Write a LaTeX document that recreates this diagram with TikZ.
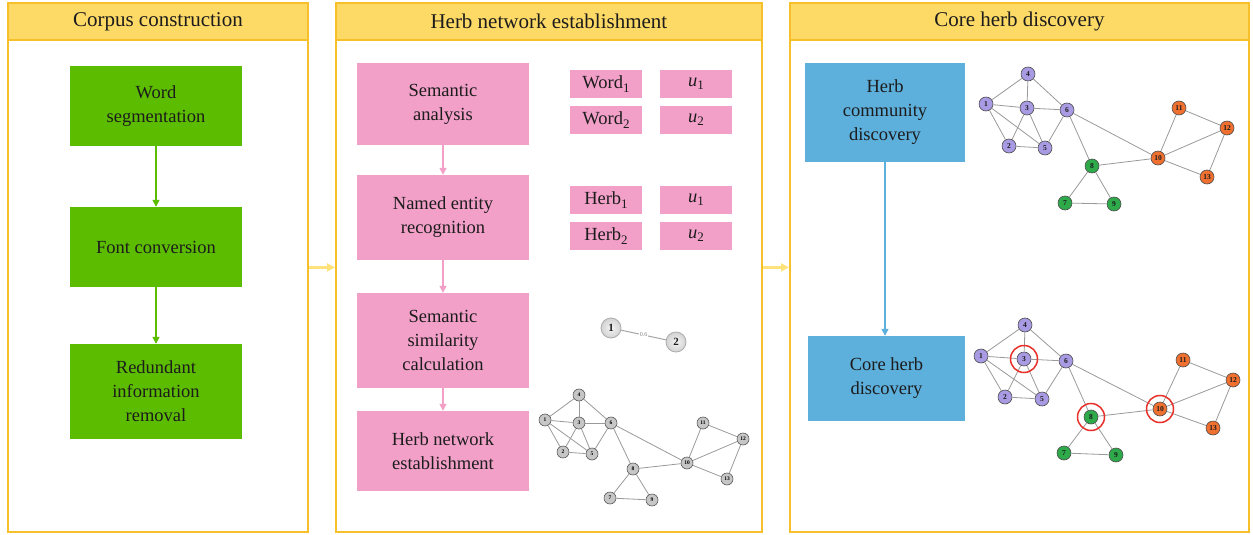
\documentclass[tikz,border=0pt]{standalone}
\usepackage{fontspec}
\setmainfont{Liberation Serif}
\usetikzlibrary{arrows.meta}
\definecolor{ybord}{HTML}{F7C02A}
\definecolor{yhead}{HTML}{FDD966}
\definecolor{yarr}{HTML}{FFE27A}
\definecolor{bgreen}{HTML}{5CBD00}
\definecolor{bpink}{HTML}{F2A0C8}
\definecolor{bblue}{HTML}{5DAFDC}
\definecolor{txt}{HTML}{1C1C1C}
\definecolor{gpurple}{HTML}{A99BE3}
\definecolor{ggreen}{HTML}{2EAA4A}
\definecolor{gorange}{HTML}{F07030}
\definecolor{gedge}{HTML}{9A9A9A}
\definecolor{ringred}{HTML}{E8302A}
\newcommand{\mysub}[1]{\raisebox{-0.4ex}{\fontsize{13}{13}\selectfont #1}}
\tikzset{
  panel/.style={draw=ybord, line width=1.8pt, fill=white, anchor=north west, inner sep=0pt},
  head/.style={draw=ybord, fill=yhead, line width=1.8pt, anchor=north west, inner sep=0pt,
    minimum height=37pt, text=txt, font=\fontsize{21}{24}\selectfont},
  box/.style={inner sep=0pt, align=center, text=txt, font=\fontsize{18.5}{24}\selectfont},
  gbox/.style={box, fill=bgreen, minimum width=172pt},
  pbox/.style={box, fill=bpink, minimum width=172pt},
  sbox/.style={box, fill=bpink, minimum width=72pt, minimum height=28pt},
  bbox/.style={box, fill=bblue},
  garr/.style={draw=bgreen, line width=1.5pt, -{Triangle[length=7pt,width=7pt]}},
  parr/.style={draw=bpink, line width=1.5pt, -{Triangle[length=7pt,width=7pt]}},
  barr/.style={draw=bblue, line width=1.5pt, -{Triangle[length=7pt,width=7pt]}},
  yarrow/.style={draw=yarr, line width=2.5pt, -{Triangle[length=8pt,width=8pt]}},
  grnode/.style={circle, draw=gray!70!black, line width=0.6pt, fill=gray!45, minimum size=12pt, inner sep=0pt,
    font=\fontsize{5.5}{5.5}\selectfont\bfseries},
  cnode/.style={circle, draw=gray!60!black, line width=0.6pt, minimum size=14pt, inner sep=0pt,
    font=\fontsize{7.5}{7.5}\selectfont\bfseries, text=txt},
  gedgestyle/.style={draw=gedge, line width=0.8pt},
  ring/.style={circle, draw=ringred, line width=1.5pt, minimum size=27pt, inner sep=0pt},
  ball/.style={circle, draw=gray!65, line width=0.8pt, inner color=gray!8, outer color=gray!35,
    minimum size=20pt, inner sep=0pt, font=\fontsize{11}{11}\selectfont\bfseries, text=txt},
}
\begin{document}
\begin{tikzpicture}[x=1pt,y=-1pt]
\useasboundingbox (0,0) rectangle (1253,535);

% panels
\node[panel, minimum width=300pt, minimum height=529pt] (p1) at (7,2) {};
\node[panel, minimum width=426pt, minimum height=529pt] (p2) at (335,2) {};
\node[panel, minimum width=459pt, minimum height=529pt] (p3) at (789,2) {};
\node[head, minimum width=300pt] (h1) at (7,2) {Corpus construction};
\node[head, minimum width=426pt] (h2) at (335,2) {Herb network establishment};
\node[head, minimum width=459pt] (h3) at (789,2) {Core herb discovery};

\draw[yarrow] (p1.east) -- (p2.west);
\draw[yarrow] (p2.east) -- (p3.west);

% panel 1
\node[gbox, minimum height=80pt] (ws) at (156,106) {Word\\segmentation};
\node[gbox, minimum height=80pt] (fc) at (156,247) {Font conversion};
\node[gbox, minimum height=95pt] (ri) at (156,391.5) {Redundant\\information\\removal};
\draw[garr] (ws) -- (fc);
\draw[garr] (fc) -- (ri);

% panel 2
\node[pbox, minimum height=82pt] (sa) at (443,104) {Semantic\\analysis};
\node[pbox, minimum height=85pt] (ne) at (443,217.5) {Named entity\\recognition};
\node[pbox, minimum height=95pt] (ss) at (443,340.5) {Semantic\\similarity\\calculation};
\node[pbox, minimum height=80pt] (hn) at (443,451) {Herb network\\establishment};
\draw[parr] (sa) -- (ne);
\draw[parr] (ne) -- (ss);
\draw[parr] (ss) -- (hn);

\node[sbox] (w1) at (606,84) {Word\mysub{1}};
\node[sbox] (wu1) at (696,84) {\textit{u}\mysub{1}};
\node[sbox] (w2) at (606,120) {Word\mysub{2}};
\node[sbox] (wu2) at (696,120) {\textit{u}\mysub{2}};
\node[sbox] (hb1) at (606,200) {Herb\mysub{1}};
\node[sbox] (hu1) at (696,200) {\textit{u}\mysub{1}};
\node[sbox] (hb2) at (606,236) {Herb\mysub{2}};
\node[sbox] (hu2) at (696,236) {\textit{u}\mysub{2}};

% small similarity graph
\node[ball] (s1) at (611,328) {1};
\node[ball] (s2) at (676,342) {2};
\draw[gray!70, line width=1pt] (s1) -- node[fill=white, inner sep=0.5pt, font=\fontsize{6}{6}\selectfont, text=gray] {0.6} (s2);

% grey network
\foreach \n/\x/\y in {4/579/395, 1/545/420, 3/579/423, 6/611/423, 2/563/452, 5/592/454,
  8/633/469, 10/687/463, 11/703/423, 12/743/439, 13/727/479, 7/610/498, 9/652/500}
  \node[grnode] (ga\n) at (\x,\y) {\n};
\foreach \a/\b in {1/4, 4/3, 4/6, 1/3, 3/6, 1/2, 1/5, 3/2, 3/5, 2/5, 6/5, 6/8, 6/10, 8/10,
  8/7, 8/9, 7/9, 10/11, 11/12, 10/12, 10/13, 12/13}
  \draw[gedgestyle] (ga\a) -- (ga\b);

% panel 3
\node[bbox, minimum width=160pt, minimum height=99pt] (hc) at (885,112.5) {Herb\\community\\discovery};
\node[bbox, minimum width=157pt, minimum height=85pt] (ch) at (886.5,378.5) {Core herb\\discovery};
\draw[barr] (hc.south -| 885,0) -- (ch.north -| 885,0);

% coloured network (top)
\foreach \n/\x/\y/\c in {4/1028/74/gpurple, 1/986/104/gpurple, 3/1027/108/gpurple, 6/1067/110/gpurple,
  2/1009/146/gpurple, 5/1045/148/gpurple, 8/1092/166/ggreen, 10/1158/158/gorange,
  11/1179/108/gorange, 12/1227/128/gorange, 13/1207/177/gorange, 7/1065/203/ggreen, 9/1114/204/ggreen}
  \node[cnode, fill=\c] (gb\n) at (\x,\y) {\n};
\foreach \a/\b in {1/4, 4/3, 4/6, 1/3, 3/6, 1/2, 1/5, 3/2, 3/5, 2/5, 6/5, 6/8, 6/10, 8/10,
  8/7, 8/9, 7/9, 10/11, 11/12, 10/12, 10/13, 12/13}
  \draw[gedgestyle] (gb\a) -- (gb\b);

% coloured network (bottom)
\foreach \n/\x/\y/\c in {4/1025/325/gpurple, 1/981/356/gpurple, 3/1024/359/gpurple, 6/1066/361/gpurple,
  2/1005/397/gpurple, 5/1042/399/gpurple, 8/1091/417/ggreen, 10/1160/409/gorange,
  11/1183/360/gorange, 12/1233/380/gorange, 13/1213/428/gorange, 7/1064/453/ggreen, 9/1116/455/ggreen}
  \node[cnode, fill=\c] (gc\n) at (\x,\y) {\n};
\foreach \a/\b in {1/4, 4/3, 4/6, 1/3, 3/6, 1/2, 1/5, 3/2, 3/5, 2/5, 6/5, 6/8, 6/10, 8/10,
  8/7, 8/9, 7/9, 10/11, 11/12, 10/12, 10/13, 12/13}
  \draw[gedgestyle] (gc\a) -- (gc\b);
\node[ring] (r3) at (gc3) {};
\node[ring] (r8) at (gc8) {};
\node[ring] (r10) at (gc10) {};
\end{tikzpicture}
\end{document}
